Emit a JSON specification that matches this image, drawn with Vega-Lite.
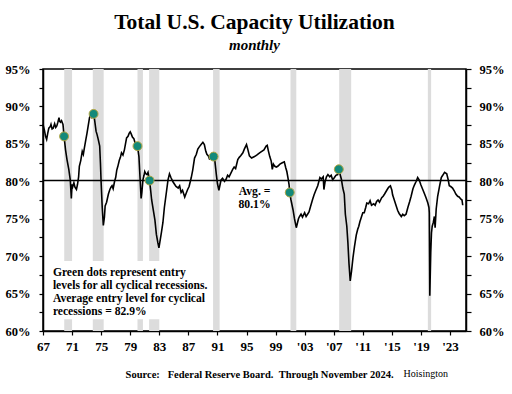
{
  "$schema": "https://vega.github.io/schema/vega-lite/v6.json",
  "width": 423,
  "height": 262,
  "autosize": {"type": "none"},
  "padding": {"left": 43, "top": 69, "right": 46, "bottom": 63},
  "background": "white",
  "config": {
    "view": {"stroke": "black", "strokeWidth": 1.5},
    "font": "Liberation Serif",
    "axis": {
      "grid": false,
      "domainColor": "black",
      "domainWidth": 1.5,
      "tickColor": "black",
      "tickWidth": 1.2,
      "labelFont": "Liberation Serif",
      "labelFontWeight": "bold",
      "labelColor": "black",
      "labelOverlap": false,
      "labelFlush": false,
      "tickCount": 30
    },
    "axisX": {"labelOverlap": false, "labelFlush": false, "labelFontSize": 13, "tickSize": 4, "labelPadding": 5.5},
    "axisY": {"labelOverlap": false, "labelFlush": false, "labelFontSize": 12.5}
  },
  "title": {
    "text": "Total U.S. Capacity Utilization",
    "subtitle": "monthly",
    "anchor": "middle",
    "frame": "group",
    "font": "Liberation Serif",
    "fontSize": 21.5,
    "fontWeight": "bold",
    "color": "black",
    "subtitleFont": "Liberation Serif",
    "subtitleFontSize": 15,
    "subtitleFontWeight": "bold",
    "subtitleFontStyle": "italic",
    "subtitleColor": "black",
    "subtitlePadding": 4.5,
    "offset": 10
  },
  "datasets": {
    "series": [
      {"year": 1967.0, "value": 87.6}, {"year": 1967.2, "value": 86.8}, {"year": 1967.35, "value": 86.0}, {"year": 1967.5, "value": 85.6},
      {"year": 1967.65, "value": 86.4}, {"year": 1967.8, "value": 87.1}, {"year": 1968.0, "value": 87.3}, {"year": 1968.1, "value": 87.6},
      {"year": 1968.25, "value": 87.0}, {"year": 1968.4, "value": 87.1}, {"year": 1968.6, "value": 87.7}, {"year": 1968.75, "value": 87.2},
      {"year": 1968.9, "value": 87.4}, {"year": 1969.05, "value": 87.9}, {"year": 1969.2, "value": 88.5}, {"year": 1969.3, "value": 88.0},
      {"year": 1969.4, "value": 87.9}, {"year": 1969.55, "value": 88.1}, {"year": 1969.75, "value": 87.6}, {"year": 1969.9, "value": 86.0},
      {"year": 1970.1, "value": 84.2}, {"year": 1970.3, "value": 82.9}, {"year": 1970.55, "value": 81.6}, {"year": 1970.75, "value": 80.2},
      {"year": 1970.9, "value": 77.7}, {"year": 1971.0, "value": 79.6}, {"year": 1971.1, "value": 79.3}, {"year": 1971.25, "value": 79.8},
      {"year": 1971.4, "value": 79.2}, {"year": 1971.6, "value": 78.9}, {"year": 1971.75, "value": 79.6}, {"year": 1971.9, "value": 80.6},
      {"year": 1972.0, "value": 82.0}, {"year": 1972.2, "value": 82.8}, {"year": 1972.4, "value": 84.0}, {"year": 1972.55, "value": 83.6},
      {"year": 1972.7, "value": 84.5}, {"year": 1972.9, "value": 85.6}, {"year": 1973.05, "value": 86.4}, {"year": 1973.2, "value": 87.3},
      {"year": 1973.4, "value": 88.5}, {"year": 1973.55, "value": 88.9}, {"year": 1973.7, "value": 88.6}, {"year": 1973.85, "value": 89.2},
      {"year": 1973.96, "value": 89.0}, {"year": 1974.1, "value": 88.2}, {"year": 1974.3, "value": 86.7}, {"year": 1974.45, "value": 86.2},
      {"year": 1974.6, "value": 85.6}, {"year": 1974.8, "value": 84.7}, {"year": 1974.9, "value": 82.5}, {"year": 1975.0, "value": 79.8},
      {"year": 1975.15, "value": 76.5}, {"year": 1975.3, "value": 74.1}, {"year": 1975.45, "value": 75.2}, {"year": 1975.55, "value": 76.7},
      {"year": 1975.75, "value": 77.2}, {"year": 1976.0, "value": 78.3}, {"year": 1976.2, "value": 78.9}, {"year": 1976.35, "value": 79.2},
      {"year": 1976.5, "value": 79.4}, {"year": 1976.65, "value": 79.0}, {"year": 1976.85, "value": 80.0}, {"year": 1977.0, "value": 80.5},
      {"year": 1977.15, "value": 81.5}, {"year": 1977.3, "value": 82.0}, {"year": 1977.5, "value": 82.8}, {"year": 1977.65, "value": 83.2},
      {"year": 1977.8, "value": 83.8}, {"year": 1978.0, "value": 83.5}, {"year": 1978.2, "value": 84.2}, {"year": 1978.35, "value": 85.0},
      {"year": 1978.5, "value": 85.8}, {"year": 1978.7, "value": 86.0}, {"year": 1978.85, "value": 86.4}, {"year": 1979.0, "value": 86.6},
      {"year": 1979.15, "value": 86.3}, {"year": 1979.3, "value": 85.9}, {"year": 1979.5, "value": 85.7}, {"year": 1979.65, "value": 85.2},
      {"year": 1979.8, "value": 84.9}, {"year": 1980.0, "value": 84.7}, {"year": 1980.2, "value": 83.3}, {"year": 1980.35, "value": 80.5},
      {"year": 1980.5, "value": 77.7}, {"year": 1980.6, "value": 78.5}, {"year": 1980.75, "value": 80.2}, {"year": 1980.9, "value": 80.8},
      {"year": 1981.0, "value": 81.3}, {"year": 1981.15, "value": 81.0}, {"year": 1981.3, "value": 80.9}, {"year": 1981.45, "value": 81.2},
      {"year": 1981.66, "value": 80.1}, {"year": 1981.8, "value": 78.9}, {"year": 1981.95, "value": 77.5}, {"year": 1982.2, "value": 76.0},
      {"year": 1982.4, "value": 74.8}, {"year": 1982.6, "value": 72.9}, {"year": 1982.8, "value": 71.8}, {"year": 1982.95, "value": 71.1},
      {"year": 1983.1, "value": 72.0}, {"year": 1983.3, "value": 73.2}, {"year": 1983.5, "value": 74.5}, {"year": 1983.7, "value": 76.5},
      {"year": 1984.0, "value": 78.7}, {"year": 1984.2, "value": 80.2}, {"year": 1984.4, "value": 81.0}, {"year": 1984.6, "value": 80.5},
      {"year": 1984.9, "value": 79.9}, {"year": 1985.1, "value": 79.6}, {"year": 1985.3, "value": 79.3}, {"year": 1985.6, "value": 79.1},
      {"year": 1985.8, "value": 79.4}, {"year": 1986.0, "value": 78.5}, {"year": 1986.2, "value": 78.8}, {"year": 1986.5, "value": 77.9},
      {"year": 1986.7, "value": 78.4}, {"year": 1986.9, "value": 78.9}, {"year": 1987.1, "value": 79.3}, {"year": 1987.4, "value": 80.5},
      {"year": 1987.6, "value": 81.5}, {"year": 1987.85, "value": 83.1}, {"year": 1988.1, "value": 83.6}, {"year": 1988.3, "value": 84.3},
      {"year": 1988.5, "value": 84.6}, {"year": 1988.75, "value": 84.9}, {"year": 1989.0, "value": 85.2}, {"year": 1989.2, "value": 84.9},
      {"year": 1989.4, "value": 84.0}, {"year": 1989.55, "value": 83.6}, {"year": 1989.75, "value": 83.4}, {"year": 1989.9, "value": 83.0},
      {"year": 1990.1, "value": 83.1}, {"year": 1990.3, "value": 83.6}, {"year": 1990.47, "value": 83.3}, {"year": 1990.65, "value": 82.7},
      {"year": 1990.85, "value": 80.9}, {"year": 1991.0, "value": 79.7}, {"year": 1991.2, "value": 78.8}, {"year": 1991.35, "value": 79.5},
      {"year": 1991.5, "value": 80.2}, {"year": 1991.7, "value": 80.4}, {"year": 1991.97, "value": 80.0}, {"year": 1992.2, "value": 80.3},
      {"year": 1992.4, "value": 80.8}, {"year": 1992.6, "value": 80.6}, {"year": 1992.8, "value": 81.0}, {"year": 1993.1, "value": 81.6},
      {"year": 1993.3, "value": 81.9}, {"year": 1993.5, "value": 81.7}, {"year": 1993.8, "value": 82.9}, {"year": 1994.0, "value": 83.2},
      {"year": 1994.2, "value": 83.4}, {"year": 1994.5, "value": 83.8}, {"year": 1994.7, "value": 84.3}, {"year": 1995.0, "value": 84.9},
      {"year": 1995.2, "value": 84.2}, {"year": 1995.4, "value": 83.4}, {"year": 1995.7, "value": 83.1}, {"year": 1996.1, "value": 83.3},
      {"year": 1996.4, "value": 83.5}, {"year": 1996.8, "value": 83.8}, {"year": 1997.1, "value": 84.0}, {"year": 1997.4, "value": 84.2},
      {"year": 1997.7, "value": 84.7}, {"year": 1997.85, "value": 84.8}, {"year": 1998.0, "value": 84.1}, {"year": 1998.2, "value": 83.3},
      {"year": 1998.4, "value": 82.7}, {"year": 1998.55, "value": 81.6}, {"year": 1998.7, "value": 82.3}, {"year": 1998.9, "value": 82.0},
      {"year": 1999.1, "value": 81.9}, {"year": 1999.3, "value": 82.0}, {"year": 1999.6, "value": 82.3}, {"year": 1999.8, "value": 82.4},
      {"year": 2000.0, "value": 82.5}, {"year": 2000.2, "value": 82.6}, {"year": 2000.4, "value": 81.8}, {"year": 2000.55, "value": 81.3},
      {"year": 2000.7, "value": 80.5}, {"year": 2000.85, "value": 79.6}, {"year": 2000.95, "value": 78.5}, {"year": 2001.1, "value": 77.6},
      {"year": 2001.4, "value": 76.2}, {"year": 2001.6, "value": 75.0}, {"year": 2001.85, "value": 73.8}, {"year": 2002.0, "value": 74.4},
      {"year": 2002.15, "value": 75.0}, {"year": 2002.3, "value": 75.3}, {"year": 2002.5, "value": 75.6}, {"year": 2002.7, "value": 75.2},
      {"year": 2002.85, "value": 75.5}, {"year": 2003.0, "value": 75.8}, {"year": 2003.2, "value": 75.3}, {"year": 2003.4, "value": 75.6},
      {"year": 2003.6, "value": 75.9}, {"year": 2003.8, "value": 76.6}, {"year": 2004.1, "value": 77.6}, {"year": 2004.3, "value": 78.2},
      {"year": 2004.5, "value": 78.7}, {"year": 2004.8, "value": 79.4}, {"year": 2005.1, "value": 80.5}, {"year": 2005.3, "value": 80.3},
      {"year": 2005.55, "value": 80.6}, {"year": 2005.65, "value": 78.9}, {"year": 2005.8, "value": 79.9}, {"year": 2006.0, "value": 80.6},
      {"year": 2006.2, "value": 80.9}, {"year": 2006.45, "value": 80.6}, {"year": 2006.65, "value": 80.8}, {"year": 2006.85, "value": 80.2},
      {"year": 2007.1, "value": 80.5}, {"year": 2007.3, "value": 80.8}, {"year": 2007.55, "value": 80.9}, {"year": 2007.7, "value": 81.6},
      {"year": 2007.85, "value": 81.0}, {"year": 2008.05, "value": 80.3}, {"year": 2008.25, "value": 79.1}, {"year": 2008.45, "value": 78.3},
      {"year": 2008.6, "value": 75.6}, {"year": 2008.8, "value": 74.0}, {"year": 2008.95, "value": 71.8}, {"year": 2009.1, "value": 69.0},
      {"year": 2009.27, "value": 66.7}, {"year": 2009.45, "value": 68.0}, {"year": 2009.65, "value": 69.8}, {"year": 2009.86, "value": 71.3},
      {"year": 2010.1, "value": 72.8}, {"year": 2010.3, "value": 73.6}, {"year": 2010.45, "value": 74.0}, {"year": 2010.6, "value": 74.6},
      {"year": 2010.8, "value": 75.2}, {"year": 2011.0, "value": 75.8}, {"year": 2011.2, "value": 75.8}, {"year": 2011.4, "value": 76.5},
      {"year": 2011.55, "value": 77.1}, {"year": 2011.8, "value": 77.0}, {"year": 2012.0, "value": 77.4}, {"year": 2012.2, "value": 76.8},
      {"year": 2012.5, "value": 77.0}, {"year": 2012.7, "value": 76.8}, {"year": 2012.9, "value": 77.3}, {"year": 2013.1, "value": 77.5},
      {"year": 2013.3, "value": 77.2}, {"year": 2013.6, "value": 77.8}, {"year": 2013.8, "value": 78.0}, {"year": 2014.0, "value": 78.3},
      {"year": 2014.3, "value": 78.8}, {"year": 2014.55, "value": 79.2}, {"year": 2014.8, "value": 79.4}, {"year": 2015.0, "value": 78.8},
      {"year": 2015.1, "value": 78.2}, {"year": 2015.3, "value": 77.6}, {"year": 2015.6, "value": 76.7}, {"year": 2015.8, "value": 76.1},
      {"year": 2016.0, "value": 75.7}, {"year": 2016.3, "value": 75.3}, {"year": 2016.5, "value": 75.6}, {"year": 2016.7, "value": 75.4},
      {"year": 2016.95, "value": 75.6}, {"year": 2017.2, "value": 76.5}, {"year": 2017.45, "value": 77.3}, {"year": 2017.65, "value": 78.0},
      {"year": 2017.9, "value": 79.0}, {"year": 2018.1, "value": 79.5}, {"year": 2018.35, "value": 80.0}, {"year": 2018.55, "value": 80.5},
      {"year": 2018.75, "value": 80.2}, {"year": 2019.0, "value": 79.5}, {"year": 2019.25, "value": 78.9}, {"year": 2019.5, "value": 78.3},
      {"year": 2019.7, "value": 77.8}, {"year": 2019.95, "value": 77.1}, {"year": 2020.1, "value": 76.5}, {"year": 2020.15, "value": 75.8},
      {"year": 2020.22, "value": 64.7}, {"year": 2020.35, "value": 70.5}, {"year": 2020.45, "value": 73.1}, {"year": 2020.55, "value": 74.0},
      {"year": 2020.7, "value": 74.5}, {"year": 2020.85, "value": 75.3}, {"year": 2020.95, "value": 73.8}, {"year": 2021.1, "value": 76.3},
      {"year": 2021.3, "value": 78.0}, {"year": 2021.55, "value": 79.3}, {"year": 2021.8, "value": 80.5}, {"year": 2022.0, "value": 80.8},
      {"year": 2022.25, "value": 81.2}, {"year": 2022.55, "value": 81.0}, {"year": 2022.75, "value": 80.2}, {"year": 2022.9, "value": 79.4},
      {"year": 2023.1, "value": 79.3}, {"year": 2023.35, "value": 79.1}, {"year": 2023.6, "value": 78.7}, {"year": 2023.8, "value": 78.3},
      {"year": 2024.05, "value": 78.0}, {"year": 2024.25, "value": 77.9}, {"year": 2024.5, "value": 77.6}, {"year": 2024.65, "value": 77.5},
      {"year": 2024.75, "value": 76.8}
    ],
    "recessions": [
      {"start": 1969.92, "end": 1971.0},
      {"start": 1973.85, "end": 1975.35},
      {"start": 1980.0, "end": 1980.75},
      {"start": 1981.6, "end": 1983.0},
      {"start": 1990.4, "end": 1991.3},
      {"start": 2001.05, "end": 2001.85},
      {"start": 2007.75, "end": 2009.4},
      {"start": 2019.95, "end": 2020.4}
    ],
    "entries": [
      {"year": 1969.9, "value": 86.0},
      {"year": 1973.96, "value": 89.0},
      {"year": 1980.0, "value": 84.7},
      {"year": 1981.66, "value": 80.1},
      {"year": 1990.47, "value": 83.3},
      {"year": 2000.95, "value": 78.5},
      {"year": 2007.7, "value": 81.6}
    ]
  },
  "resolve": {"axis": {"y": "independent"}},
  "layer": [
    {
      "data": {"name": "recessions"},
      "mark": {"type": "rect", "color": "#dcdcdc"},
      "encoding": {
        "x": {"field": "start", "type": "quantitative", "title": null,
              "scale": {"domain": [1967, 2025.2], "nice": false, "zero": false},
              "axis": {"values": [1967, 1971, 1975, 1979, 1983, 1987, 1991, 1995, 1999, 2003, 2007, 2011, 2015, 2019, 2023],
                       "tickCount": 30,
                       "labelExpr": "datum.value < 2000 ? '' + (datum.value - 1900) : \"'\" + (datum.value < 2010 ? '0' : '') + (datum.value - 2000)",
                       "labelFontSize": 13, "tickSize": 4, "labelPadding": 5.5, "labelFlush": false, "labelOverlap": false}},
        "x2": {"field": "end"},
        "y": {"datum": 95, "type": "quantitative", "title": null, "scale": {"domain": [60, 95], "nice": false, "zero": false}, "axis": null},
        "y2": {"datum": 60}
      }
    },
    {
      "data": {"values": [{}]},
      "mark": {"type": "rect", "color": "white"},
      "encoding": {
        "x": {"datum": 1968.3, "type": "quantitative", "title": null},
        "x2": {"datum": 1990.0},
        "y": {"datum": 69.35, "type": "quantitative", "title": null, "axis": null},
        "y2": {"datum": 61.56}
      }
    },
    {
      "data": {"values": [{}]},
      "mark": {"type": "rule", "color": "black", "strokeWidth": 1.5},
      "encoding": {
        "y": {"datum": 80.1, "type": "quantitative", "title": null,
              "axis": {"orient": "right", "values": [60, 62.5, 65, 67.5, 70, 72.5, 75, 77.5, 80, 82.5, 85, 87.5, 90, 92.5, 95],
                       "tickCount": 30,
                       "labelExpr": "datum.value % 5 == 0 ? datum.value + '%' : ''",
                       "labelFontSize": 12.5, "tickSize": 5, "labelPadding": 8, "labelFlush": false, "labelOverlap": false}}
      }
    },
    {
      "data": {"name": "series"},
      "mark": {"type": "line", "color": "black", "strokeWidth": 1.6},
      "encoding": {
        "x": {"field": "year", "type": "quantitative", "title": null},
        "y": {"field": "value", "type": "quantitative", "title": null,
              "axis": {"orient": "left", "values": [60, 62.5, 65, 67.5, 70, 72.5, 75, 77.5, 80, 82.5, 85, 87.5, 90, 92.5, 95],
                       "tickCount": 30,
                       "labelExpr": "datum.value % 5 == 0 ? datum.value + '%' : ''",
                       "labelFontSize": 12.5, "tickSize": 4, "labelPadding": 9, "labelFlush": false, "labelOverlap": false}}
      }
    },
    {
      "data": {"name": "entries"},
      "mark": {"type": "point", "filled": true, "size": 80, "color": "#13897a", "stroke": "#b5a642", "strokeWidth": 1, "opacity": 1},
      "encoding": {
        "x": {"field": "year", "type": "quantitative", "title": null},
        "y": {"field": "value", "type": "quantitative", "title": null, "axis": null}
      }
    },
    {
      "data": {"values": [{}]},
      "mark": {"type": "text", "font": "Liberation Serif", "fontWeight": "bold", "fontSize": 11.7, "align": "center", "baseline": "alphabetic", "lineHeight": 13.3, "color": "black",
               "text": ["Avg. =", "80.1%"]},
      "encoding": {
        "x": {"datum": 1996.1, "type": "quantitative", "title": null},
        "y": {"datum": 78.2, "type": "quantitative", "title": null, "axis": null}
      }
    },
    {
      "data": {"values": [{}]},
      "mark": {"type": "text", "font": "Liberation Serif", "fontWeight": "bold", "fontSize": 11.6, "align": "left", "baseline": "alphabetic", "lineHeight": 13.3, "color": "black",
               "text": ["Green dots represent entry", "levels for all cyclical recessions.", "Average entry level for cyclical", "recessions = 82.9%"]},
      "encoding": {
        "x": {"datum": 1968.36, "type": "quantitative", "title": null},
        "y": {"datum": 67.4, "type": "quantitative", "title": null, "axis": null}
      }
    },
    {
      "data": {"values": [{}]},
      "mark": {"type": "text", "font": "Liberation Serif", "fontWeight": "bold", "fontSize": 10.5, "align": "left", "baseline": "alphabetic", "color": "black",
               "text": "Source:\u00a0\u00a0\u00a0Federal Reserve Board.\u00a0\u00a0Through November 2024."},
      "encoding": {
        "x": {"datum": 1978.36, "type": "quantitative", "title": null},
        "y": {"datum": 53.7, "type": "quantitative", "title": null, "axis": null}
      }
    },
    {
      "data": {"values": [{}]},
      "mark": {"type": "text", "font": "Liberation Serif", "fontSize": 10, "align": "left", "baseline": "alphabetic", "color": "black",
               "text": "Hoisington"},
      "encoding": {
        "x": {"datum": 2016.6, "type": "quantitative", "title": null},
        "y": {"datum": 53.8, "type": "quantitative", "title": null, "axis": null}
      }
    }
  ]
}
